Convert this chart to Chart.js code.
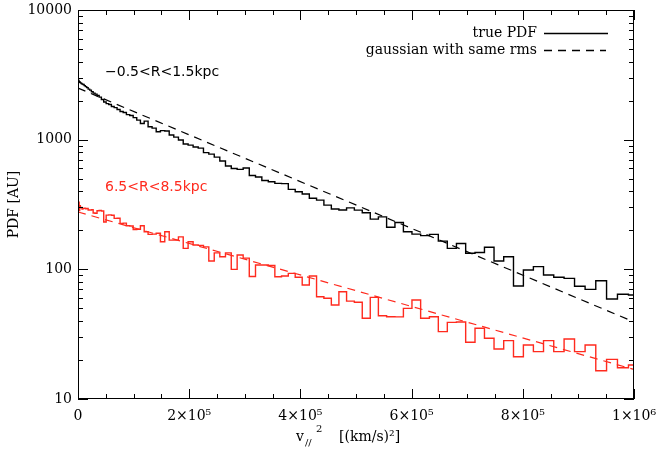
<!DOCTYPE html>
<html><head><meta charset="utf-8">
<script src="https://cdn.jsdelivr.net/npm/chart.js@4/dist/chart.umd.min.js"></script>
<style>html,body{margin:0;padding:0;background:#fff}</style>
</head><body>
<canvas id="c" width="656" height="450"></canvas>
<script>
// v_parallel sample points (km/s); x axis is v^2
const vPar = [0,10,20,30,40,50,60,70,80,90,100,110,120,130,140,150,160,170,180,190,200,210,220,230,240,250,260,270,280,290,300,310,320,330,340,350,360,370,380,390,400,410,420,430,440,450,460,470,480,490,500,510,520,530,540,550,560,570,580,590,600,610,620,630,640,650,660,670,680,690,700,710,720,730,740,750,760,770,780,790,800,810,820,830,840,850,860,870,880,890,900,910,920,930,940,950,960,970,980,990,1000];
// true PDF, -0.5<R<1.5kpc
const pdfInner = [2950,2930,2900,2870,2840,2800,2770,2740,2710,2680,2660,2613,2567,2521,2455,2412,2341,2287,2247,2188,2130,2038,1950,1898,1865,1800,1768,1707,1647,1618,1561,1534,1480,1416,1331,1391,1257,1228,1150,1175,1165,1085,1047,993,925,908,877,861,795,774,734,684,626,599,590,604,529,515,484,474,460,458,414,397,381,353,342,313,292,287,298,286,273,244,254,211,230,195,187,182,186,165,145,158,133,135,148,116,125,74.3,98.8,105,90.4,86.8,85.2,74,70.1,81.7,59,64.2,63.4];
// true PDF, 6.5<R<8.5kpc
const pdfSolar = [305,300,312,296,330,284,310,298,300,292,295,296,293,295,287,286,288,272,271,283,284,282,232,262,263,261,247,248,226,227,217,216,203,204,217,195,186,187,190,163,195,168,168,178,145,163,154,153,149,116,134,125,134,100,129,122,88,108,108,107,87.7,88.8,93.1,86.8,75.7,88.8,61.5,59.8,53.1,67.2,56.9,55.7,41.9,60.8,43.9,43.1,43,50,58,41.9,43.1,33.1,39,39.2,27.4,35.1,29.4,24.3,28.2,21.2,26.1,23.2,28.2,23.2,29,23.2,26.1,16.5,20.2,17.4,18.3];
// gaussian with same rms (straight lines in log-linear), end points
const gaussX = [0, 1000000];
const gaussInner = [2500, 39.3];
const gaussSolar = [277, 16.9];
const xTicks = [0, 200000, 400000, 600000, 800000, 1000000];
const yTicks = [10, 100, 1000, 10000];
const regionLabels = ['\u22120.5<R<1.5kpc', '6.5<R<8.5kpc'];
const legendLabels = ['true PDF', 'gaussian with same rms'];

const RED = 'rgb(255,42,30)';
const SERIF = "'DejaVu Serif', serif";
const SANS = "'DejaVu Sans', sans-serif";

const pts = (xs, ys) => xs.map((x, i) => ({x: x, y: ys[i]}));
const histPts = ys => pts(vPar.map(v => v * v), ys);

const sup = {'0':'\u2070','1':'\u00b9','2':'\u00b2','3':'\u00b3','4':'\u2074','5':'\u2075','6':'\u2076','7':'\u2077','8':'\u2078','9':'\u2079'};
function sciLabel(v) {
  if (v === 0) return '0';
  const e = Math.floor(Math.log10(v) + 1e-9);
  const m = Math.round(v / Math.pow(10, e));
  return m + '\u00d710' + String(e).split('').map(c => sup[c]).join('');
}

const decor = {
  id: 'decor',
  afterDraw(chart) {
    const {ctx, chartArea: a, scales: {x, y}} = chart;
    ctx.save();
    ctx.strokeStyle = '#000';
    ctx.lineWidth = 1;
    ctx.setLineDash([]);
    ctx.strokeRect(a.left + 0.5, a.top + 0.5, a.right - a.left - 1, a.bottom - a.top - 1);
    ctx.beginPath();
    // x ticks (major + minor every 5e4), bottom and top, pointing inward
    for (let v = 0; v <= 1000000; v += 50000) {
      const px = Math.round(x.getPixelForValue(v)) + 0.5;
      const len = (v % 200000 === 0) ? 10 : 5;
      ctx.moveTo(px, a.bottom); ctx.lineTo(px, a.bottom - len);
      ctx.moveTo(px, a.top); ctx.lineTo(px, a.top + len);
    }
    // y ticks (log), left and right
    for (let d = 10; d <= 10000; d *= 10) {
      for (let k = 1; k <= 9; k++) {
        const v = d * k;
        if (v > 10000) break;
        const py = Math.round(y.getPixelForValue(v)) + 0.5;
        const len = k === 1 ? 10 : 5;
        ctx.moveTo(a.left, py); ctx.lineTo(a.left + len, py);
        ctx.moveTo(a.right, py); ctx.lineTo(a.right - len, py);
      }
    }
    ctx.stroke();

    // region labels
    ctx.font = '14px ' + SANS;
    ctx.textBaseline = 'middle';
    ctx.textAlign = 'left';
    ctx.fillStyle = '#000';
    ctx.fillText(regionLabels[0], 105, 72);
    ctx.fillStyle = RED;
    ctx.fillText(regionLabels[1], 105, 187);

    // legend
    ctx.font = '14px ' + SERIF;
    ctx.fillStyle = '#000';
    ctx.textAlign = 'right';
    ctx.fillText(legendLabels[0], 537, 33);
    ctx.fillText(legendLabels[1], 537, 50);
    ctx.lineWidth = 1.3;
    ctx.beginPath(); ctx.moveTo(544, 33.5); ctx.lineTo(608, 33.5); ctx.stroke();
    ctx.setLineDash([8, 6]);
    ctx.beginPath(); ctx.moveTo(544, 50.5); ctx.lineTo(606, 50.5); ctx.stroke();
    ctx.setLineDash([]);

    // x-axis title: v_{//}^2   [(km/s)^2]
    ctx.textAlign = 'left';
    ctx.textBaseline = 'alphabetic';
    ctx.font = '14px ' + SERIF;
    ctx.fillText('v', 296, 441);
    ctx.font = '10px ' + SERIF;
    ctx.fillText('//', 305, 446);
    ctx.fillText('2', 316, 432);
    ctx.font = '14px ' + SERIF;
    ctx.fillText('[(km/s)\u00b2]', 339, 441);
    ctx.restore();
  }
};

new Chart(document.getElementById('c'), {
  type: 'line',
  data: {
    datasets: [
      {data: histPts(pdfInner), borderColor: '#000', borderWidth: 1.4, stepped: 'middle', pointRadius: 0, fill: false},
      {data: histPts(pdfSolar), borderColor: RED, borderWidth: 1.4, stepped: 'middle', pointRadius: 0, fill: false},
      {data: pts(gaussX, gaussInner), borderColor: '#000', borderWidth: 1.2, borderDash: [8, 6], pointRadius: 0, fill: false},
      {data: pts(gaussX, gaussSolar), borderColor: RED, borderWidth: 1.2, borderDash: [8, 6], pointRadius: 0, fill: false}
    ]
  },
  options: {
    responsive: false,
    animation: false,
    devicePixelRatio: 1,
    layout: {padding: {top: 10, right: 22, bottom: 0, left: 0}},
    plugins: {legend: {display: false}, tooltip: {enabled: false}},
    scales: {
      x: {
        type: 'linear', min: 0, max: 1000000,
        grid: {display: false, drawTicks: false},
        border: {display: false},
        afterBuildTicks: s => { s.ticks = xTicks.map(v => ({value: v})); },
        afterFit: s => { s.height = 51; s.paddingLeft = 0; s.paddingRight = 0; },
        ticks: {color: '#000', padding: 9, maxRotation: 0, autoSkip: false,
                font: {family: SERIF, size: 14}, callback: v => sciLabel(v)}
      },
      y: {
        type: 'logarithmic', min: 10, max: 10000,
        grid: {display: false, drawTicks: false},
        border: {display: false},
        afterBuildTicks: s => { s.ticks = yTicks.map(v => ({value: v})); },
        afterFit: s => { s.width = 78; s.paddingTop = 0; s.paddingBottom = 0; },
        ticks: {color: '#000', padding: 6, autoSkip: false,
                font: {family: SERIF, size: 14}, callback: v => String(v)},
        title: {display: true, text: 'PDF [AU]', color: '#000',
                font: {family: SERIF, size: 14}, padding: {top: 6, bottom: 0}}
      }
    }
  },
  plugins: [decor]
});
</script>
</body></html>
